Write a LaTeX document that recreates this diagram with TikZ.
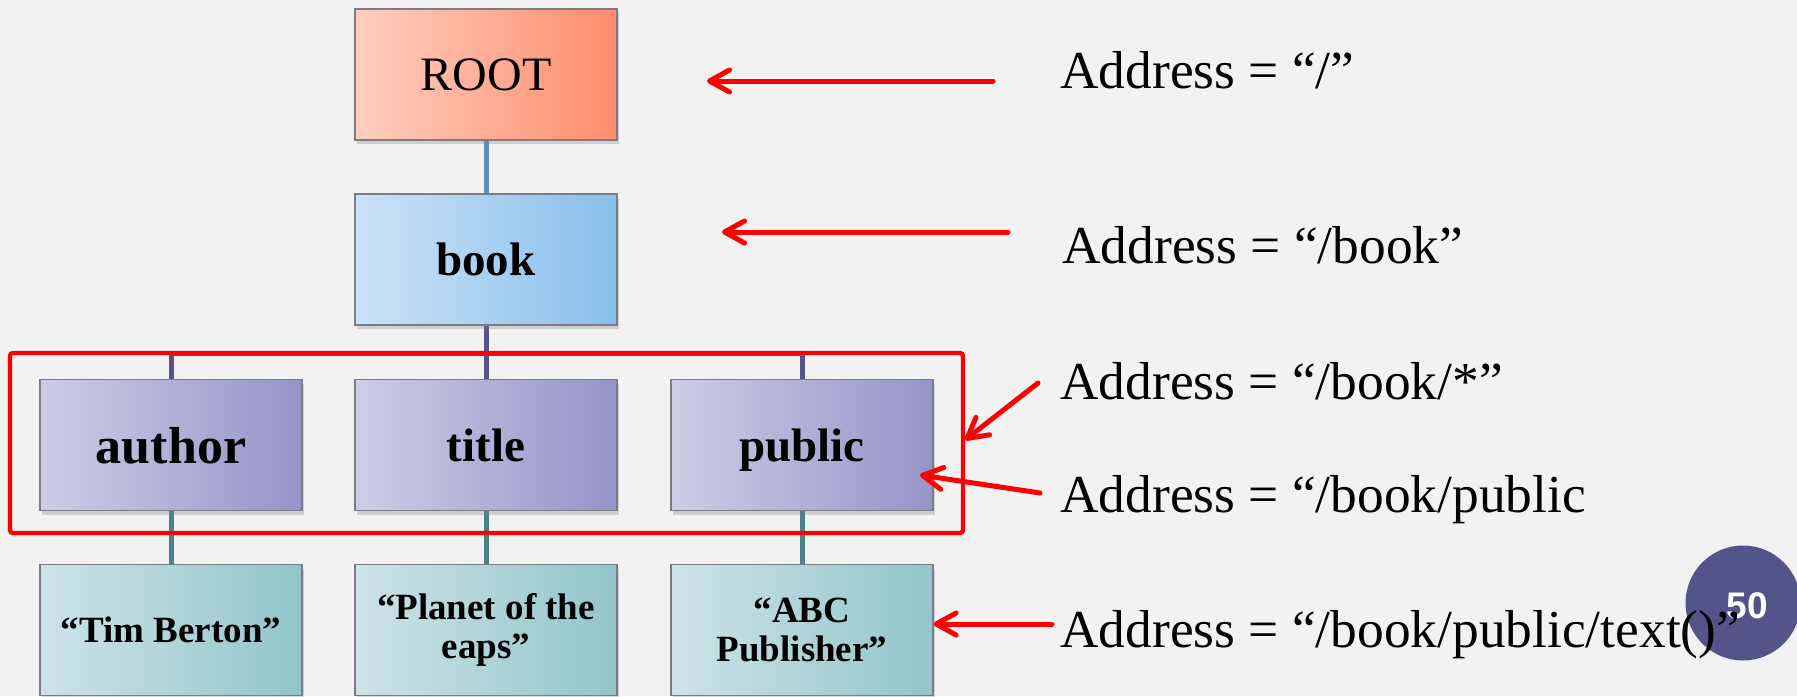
\documentclass[tikz,border=0pt]{standalone}
\usepackage{fontspec}
\setmainfont{Liberation Serif}
\newfontfamily\badgefont{Liberation Sans}
\usetikzlibrary{arrows.meta,shadows,backgrounds}

\definecolor{pagebg}{HTML}{F2F2F2}
\definecolor{boxline}{HTML}{7C7C88}
\definecolor{rootL}{HTML}{FFCFC0}
\definecolor{rootM}{HTML}{FFB69E}
\definecolor{rootR}{HTML}{FF8C6C}
\definecolor{bookL}{HTML}{CCE2F6}
\definecolor{bookM}{HTML}{B0D3F1}
\definecolor{bookR}{HTML}{88BFEC}
\definecolor{midL}{HTML}{CDCDE6}
\definecolor{midM}{HTML}{B8B8DB}
\definecolor{midR}{HTML}{9494C9}
\definecolor{leafL}{HTML}{CDE3E7}
\definecolor{leafM}{HTML}{B4D6DA}
\definecolor{leafR}{HTML}{92C5CB}
\definecolor{rootlink}{HTML}{5E8FBA}
\definecolor{midlink}{HTML}{55558C}
\definecolor{leaflink}{HTML}{4A818A}
\definecolor{badge}{HTML}{53558A}

\tikzset{
  box/.style={draw=boxline, line width=0.6pt, minimum width=131pt,
    minimum height=65.5pt, inner sep=0pt, align=center,
    drop shadow={shadow xshift=1.2pt, shadow yshift=-2pt, opacity=0.3}},
  rootbox/.style={box, left color=rootL, middle color=rootM, right color=rootR,
    font=\fontsize{24pt}{28pt}\selectfont},
  bookbox/.style={box, left color=bookL, middle color=bookM, right color=bookR,
    font=\fontsize{23.5pt}{28pt}\selectfont\bfseries},
  midbox/.style={box, left color=midL, middle color=midM, right color=midR,
    font=\fontsize{23.5pt}{28pt}\selectfont\bfseries, text depth=0pt},
  leafbox/.style={box, left color=leafL, middle color=leafM, right color=leafR,
    font=\fontsize{18.5pt}{19.5pt}\selectfont\bfseries},
  addr/.style={anchor=base west, inner sep=0pt, font=\fontsize{26.7pt}{32pt}\selectfont},
  link/.style={line width=2.5pt},
  pointer/.style={draw=red, line width=2.5pt, line cap=round,
    -{Straight Barb[length=10pt, width=11pt, round]}},
  redframe/.style={draw=red, line width=2.2pt, rounded corners=1.5pt}
}

\begin{document}
\begin{tikzpicture}[x=0.5pt, y=-0.5pt]
  \useasboundingbox (0,0) rectangle (1797,696);

  % tree nodes
  \node[rootbox] (root) at (486,74.5) {ROOT};
  \node[bookbox] (book) at (486,259.5) {book};
  \node[midbox, font=\fontsize{26pt}{30pt}\selectfont\bfseries] (author) at (171,445) {author};
  \node[midbox] (title) at (486,445) {title};
  \node[midbox] (public) at (802,445) {public};
  \node[leafbox] (tim) at (171,630) {“Tim Berton”};
  \node[leafbox] (planet) at (486,630) {“Planet of the\\eaps”};
  \node[leafbox] (abc) at (802,630) {“ABC\\Publisher”};
  \coordinate (hub) at (486,353);

  % background and tree links
  \begin{scope}[on background layer]
    \fill[pagebg] (0,0) rectangle (1797,696);
    \draw[link, rootlink] (root) -- (book);
    \draw[link, midlink] (book) -- (hub);
    \draw[link, midlink] (hub) -| (author.north);
    \draw[link, midlink] (hub) -- (title.north);
    \draw[link, midlink] (hub) -| (public.north);
    \draw[link, leaflink] (author) -- (tim);
    \draw[link, leaflink] (title) -- (planet);
    \draw[link, leaflink] (public) -- (abc);
  \end{scope}

  % frame round the children of book
  \coordinate (frameNW) at (10,353);
  \coordinate (frameSE) at (963,533);
  \draw[redframe] (frameNW) rectangle (frameSE);

  % page badge
  \node[circle, fill=badge, minimum size=57.5pt, inner sep=0pt] (badge) at (1743,603) {};
  \node[text=white, inner sep=0pt,
    font=\badgefont\bfseries\fontsize{18.5pt}{20pt}\selectfont] (pageno) at (1747,606) {50};

  % address labels
  \node[addr] (a1) at (1060,88) {Address = “/”};
  \node[addr] (a2) at (1062,263) {Address = “/book”};
  \node[addr] (a3) at (1060,399) {Address = “/book/*”};
  \node[addr] (a4) at (1060,512) {Address = “/book/public};
  \node[addr] (a5) at (1060,647) {Address = “/book/public/text()”};

  % pointers
  \coordinate (p1s) at (993,81);   \coordinate (p1e) at (707,81);
  \coordinate (p2s) at (1008,232); \coordinate (p2e) at (722,232);
  \coordinate (p3s) at (1038,383); \coordinate (p3e) at (965,440);
  \coordinate (p4s) at (1040,493); \coordinate (p4e) at (920,475);
  \coordinate (p5s) at (1052,624);
  \draw[pointer] (p1s) -- (p1e);
  \draw[pointer] (p2s) -- (p2e);
  \draw[pointer] (p3s) -- (p3e);
  \draw[pointer] (p4s) -- (p4e);
  \draw[pointer] (p5s) -- (abc.east |- p5s);
\end{tikzpicture}
\end{document}
